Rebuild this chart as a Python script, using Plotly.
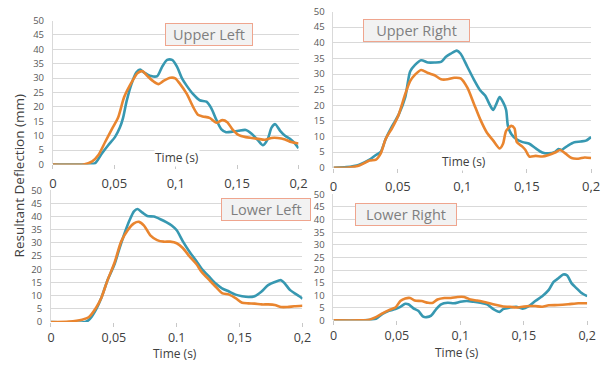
import plotly.graph_objects as go

# ---------------- data ----------------
ul_teal_t = [0, 0.025, 0.03, 0.0345, 0.04, 0.045, 0.0505, 0.0545, 0.057, 0.06, 0.064, 0.068, 0.071, 0.074, 0.08, 0.085, 0.089, 0.093, 0.097, 0.101, 0.105, 0.109, 0.114, 0.1195, 0.125, 0.129, 0.133, 0.137, 0.141, 0.146, 0.151, 0.157, 0.162, 0.167, 0.171, 0.175, 0.178, 0.181, 0.185, 0.189, 0.193, 0.197, 0.2]
ul_teal_v = [0, 0, 0.1, 0.5, 3.9, 6.7, 9.5, 12.8, 16, 22, 28, 32, 33, 32, 30.7, 30.7, 34, 36.3, 36.3, 34, 30, 27.3, 24.5, 22.3, 21.8, 19.5, 15.6, 12.3, 11.2, 11.4, 11.7, 12, 10.6, 8.4, 6.7, 8.9, 12.8, 14, 11.7, 10, 8.9, 7.3, 5.6]
ul_orange_t = [0, 0.025, 0.032, 0.037, 0.0425, 0.048, 0.053, 0.058, 0.064, 0.069, 0.073, 0.077, 0.082, 0.086, 0.09, 0.0956, 0.0996, 0.1036, 0.109, 0.114, 0.118, 0.122, 0.1275, 0.133, 0.138, 0.142, 0.146, 0.151, 0.157, 0.162, 0.167, 0.1726, 0.178, 0.183, 0.189, 0.194, 0.2]
ul_orange_v = [0, 0, 1.1, 3.3, 7.8, 12.3, 16.2, 23.4, 28.5, 31.8, 32.4, 30.7, 28.8, 27.9, 29, 30.1, 29.9, 27.9, 24.5, 20.1, 17.3, 16.7, 16.2, 14.5, 15.4, 14.7, 12.3, 10.3, 9.5, 9.2, 8.9, 8.6, 9.2, 9.2, 8.7, 7.8, 7.3]

ur_teal_t = [0, 0.01, 0.02, 0.028, 0.033, 0.0367, 0.0405, 0.0456, 0.0506, 0.0557, 0.0595, 0.0633, 0.068, 0.0734, 0.0785, 0.0835, 0.0873, 0.091, 0.0957, 0.0987, 0.1038, 0.1089, 0.114, 0.1177, 0.1215, 0.124, 0.1266, 0.129, 0.1316, 0.134, 0.1354, 0.138, 0.1418, 0.1468, 0.152, 0.157, 0.162, 0.167, 0.172, 0.1747, 0.177, 0.1823, 0.187, 0.192, 0.196, 0.2]
ur_teal_v = [0, 0.2, 1, 2.6, 4.1, 5.1, 9.2, 13.4, 17, 22.6, 30.8, 32.9, 34.4, 33.7, 33.7, 33.9, 35.5, 36.5, 37.5, 36.5, 32.4, 28.3, 24.7, 23.1, 20, 18.5, 20.6, 22.6, 21, 18.5, 13.4, 10.8, 9.2, 8.2, 7.7, 6.2, 4.9, 4.6, 5.1, 6, 5.7, 7.2, 8.2, 8.4, 8.7, 9.8]
ur_orange_t = [0, 0.01, 0.02, 0.028, 0.033, 0.0367, 0.0405, 0.0456, 0.0506, 0.0557, 0.0595, 0.0633, 0.068, 0.0734, 0.0785, 0.0835, 0.0886, 0.0937, 0.0987, 0.1038, 0.1089, 0.114, 0.119, 0.124, 0.129, 0.1316, 0.134, 0.138, 0.1405, 0.1423, 0.1468, 0.149, 0.152, 0.157, 0.162, 0.167, 0.172, 0.176, 0.18, 0.1848, 0.19, 0.195, 0.2]
ur_orange_v = [0, 0, 0.7, 2.3, 2.6, 4.6, 9.2, 12.8, 17, 23.6, 27.7, 29.8, 31.3, 30.3, 29.6, 28.3, 28.3, 28.8, 28.6, 25.7, 20.6, 15.4, 11.3, 8.7, 6.2, 7.7, 11.8, 13.4, 12.6, 8.2, 6.7, 5.7, 3.6, 3.8, 3.6, 4.1, 4.9, 5.7, 4.6, 3.1, 2.9, 3.3, 3.1]

ll_teal_t = [0, 0.0273, 0.031, 0.036, 0.04, 0.045, 0.0506, 0.0545, 0.0584, 0.0623, 0.066, 0.0688, 0.0727, 0.0766, 0.0818, 0.087, 0.092, 0.096, 0.1, 0.105, 0.11, 0.1156, 0.12, 0.126, 0.131, 0.136, 0.1416, 0.1468, 0.152, 0.157, 0.162, 0.1675, 0.1727, 0.178, 0.183, 0.186, 0.19, 0.1935, 0.1974, 0.2]
ll_teal_v = [0, 0, 1.2, 4.9, 9.1, 15.9, 22, 28, 33.5, 38.4, 42, 42.9, 41.5, 40.2, 40, 39, 37.8, 36.6, 34.8, 30.5, 26.8, 23.2, 20.1, 17.1, 14.6, 12.8, 11.6, 10.4, 9.8, 9.5, 9.8, 11.6, 14, 15.2, 15.9, 14.6, 12.2, 11, 9.8, 8.9]
ll_orange_t = [0, 0.0143, 0.0247, 0.03, 0.036, 0.04, 0.045, 0.0506, 0.0558, 0.061, 0.066, 0.07, 0.074, 0.079, 0.0844, 0.0896, 0.0948, 0.1, 0.105, 0.11, 0.1156, 0.12, 0.126, 0.131, 0.136, 0.1416, 0.1468, 0.152, 0.157, 0.162, 0.1675, 0.1727, 0.178, 0.183, 0.188, 0.1935, 0.2]
ll_orange_v = [0, 0.2, 0.9, 1.8, 5.5, 9.1, 15.9, 22.6, 30.5, 34.8, 37.4, 38, 36.6, 32.9, 31.1, 30.5, 30.5, 29.9, 28, 25, 22, 18.9, 15.9, 13.4, 11, 10.4, 9.1, 7.3, 7.1, 7, 6.7, 6.7, 6.5, 5.7, 5.7, 6, 6.2]

lr_teal_t = [0, 0.023, 0.0334, 0.0386, 0.0437, 0.0488, 0.0527, 0.0566, 0.059, 0.063, 0.0668, 0.0707, 0.0733, 0.077, 0.081, 0.0848, 0.09, 0.095, 0.1, 0.105, 0.1105, 0.1157, 0.121, 0.126, 0.131, 0.1337, 0.139, 0.144, 0.149, 0.154, 0.159, 0.1645, 0.1697, 0.1735, 0.177, 0.181, 0.184, 0.1877, 0.1915, 0.195, 0.2]
lr_teal_v = [0, 0, 0.6, 2.6, 3.8, 4.5, 5.4, 6.6, 6.4, 4.8, 3.8, 1.5, 1.3, 1.9, 4.5, 6.4, 7, 6.8, 7.4, 7.7, 7.4, 7, 6.4, 4.5, 3.4, 4.5, 5.1, 5.4, 4.7, 5.7, 7.7, 9.6, 12.1, 15.3, 16.6, 18.2, 17.9, 14.7, 12.8, 11.1, 9.6]
lr_orange_t = [0, 0.02, 0.0283, 0.0334, 0.0386, 0.0437, 0.0488, 0.0527, 0.0566, 0.0604, 0.064, 0.0694, 0.0746, 0.0784, 0.082, 0.0874, 0.0925, 0.0977, 0.103, 0.108, 0.113, 0.118, 0.123, 0.1285, 0.1337, 0.139, 0.144, 0.149, 0.154, 0.159, 0.1645, 0.1697, 0.177, 0.185, 0.193, 0.2]
lr_orange_v = [0, 0, 0.3, 1.3, 2.8, 4.1, 5.1, 7.7, 8.7, 8.9, 7.9, 7.7, 7, 7, 8.3, 8.9, 8.9, 9.3, 9.3, 8.3, 7.9, 7.4, 6.8, 6.1, 5.5, 5.4, 5.1, 5.4, 5.7, 5.7, 5.4, 6, 6.1, 6.4, 6.8, 6.8]

x_tickvals = [0, 0.05, 0.1, 0.15, 0.2]
x_ticktext_upper = ["0", "0,05", "0,1", "0,15", "0,2"]
x_ticktext_ll = ["0", "0,05", "0.1", "0,15", "0,2"]
x_ticktext_lr = ["0", "0,05", "0,1", "0,15", "0,2"]
y_tickvals = [0, 5, 10, 15, 20, 25, 30, 35, 40, 45, 50]
panel_labels = ["Upper Left", "Upper Right", "Lower Left", "Lower Right"]

TEAL = "#3798B1"
ORANGE = "#E9852F"
W, H = 607, 365

def fx(px):
    return px / W

def fy(py):
    return 1 - py / H

fig = go.Figure()

panels = [
    ("x", "y", ul_teal_t, ul_teal_v, ul_orange_t, ul_orange_v),
    ("x2", "y2", ur_teal_t, ur_teal_v, ur_orange_t, ur_orange_v),
    ("x3", "y3", ll_teal_t, ll_teal_v, ll_orange_t, ll_orange_v),
    ("x4", "y4", lr_teal_t, lr_teal_v, lr_orange_t, lr_orange_v),
]
for xa, ya, tt, tv, ot, ov in panels:
    fig.add_trace(go.Scatter(x=tt, y=tv, mode="lines", xaxis=xa, yaxis=ya,
                             line=dict(color=TEAL, width=2.6, shape="spline", smoothing=0.7),
                             showlegend=False))
    fig.add_trace(go.Scatter(x=ot, y=ov, mode="lines", xaxis=xa, yaxis=ya,
                             line=dict(color=ORANGE, width=2.6, shape="spline", smoothing=0.7),
                             showlegend=False))

# panel geometry in pixels: (x0, x1, y_zero, y_fifty)
geo = [
    (50, 301, 163.3, 14),
    (336.7, 600, 166.7, 4.7),
    (48, 305, 326.7, 190),
    (336.7, 596, 325, 194.3),
]
ticktexts = [x_ticktext_upper, x_ticktext_upper, x_ticktext_ll, x_ticktext_lr]

layout = dict(
    width=W, height=H, margin=dict(l=0, r=0, t=0, b=0),
    paper_bgcolor="white", plot_bgcolor="white",
    font=dict(family="Open Sans, sans-serif", color="#404040"),
)
for i, (x0, x1, y0, y50) in enumerate(geo):
    sfx = "" if i == 0 else str(i + 1)
    layout["xaxis" + sfx] = dict(
        domain=[fx(x0), fx(x1)], range=[0, 0.2], anchor="y" + sfx,
        tickvals=x_tickvals, ticktext=ticktexts[i],
        showgrid=False, zeroline=False, showline=False,
        ticks="outside", ticklen=4, tickcolor="#C8C8C8",
        ticklabelstandoff=3 if i < 2 else 0,
        tickfont=dict(size=13 if i < 2 else 12.5, color="#404040"),
    )
    layout["yaxis" + sfx] = dict(
        domain=[fy(y0), fy(y50)], range=[0, 50], anchor="x" + sfx,
        tickvals=y_tickvals, showgrid=True, gridcolor="#D9D9D9", gridwidth=1,
        zeroline=False, showline=True, linecolor="#D9D9D9", linewidth=1,
        ticks="", ticklabelstandoff=6,
        tickfont=dict(size=9.5, color="#595959"),
    )
fig.update_layout(**layout)

annotations = []
# Y-axis title
annotations.append(dict(x=fx(15), y=fy(175), xref="paper", yref="paper",
                        xanchor="center", yanchor="middle",
                        text="Resultant Deflection (mm)", textangle=-90, showarrow=False,
                        font=dict(size=13.5, color="#404040")))
# Time (s) titles
for (px, py, bg) in [(177, 156, True), (470, 160, True), (175, 359.5, False), (463, 358, False)]:
    annotations.append(dict(x=fx(px), y=fy(py), xref="paper", yref="paper", text="Time (s)",
                            xanchor="center", yanchor="middle",
                            showarrow=False, font=dict(size=12, color="#404040"),
                            bgcolor="white" if bg else None, borderpad=0))
# Panel label boxes (center x, center y, width)
for label, (cx, cy, w) in zip(panel_labels, [(209, 29, 86), (421.5, 24, 105), (268, 210, 88), (411, 215, 100)]):
    annotations.append(dict(x=fx(cx), y=fy(cy), xref="paper", yref="paper", text=label,
                            xanchor="center", yanchor="middle",
                            showarrow=False, width=w, height=21,
                            font=dict(size=14.5, color="#7F7F7F"),
                            bgcolor="#F2F2F2", bordercolor="#EFA58E", borderwidth=1, borderpad=0))
fig.update_layout(annotations=annotations)

fig.write_html("out.html")
